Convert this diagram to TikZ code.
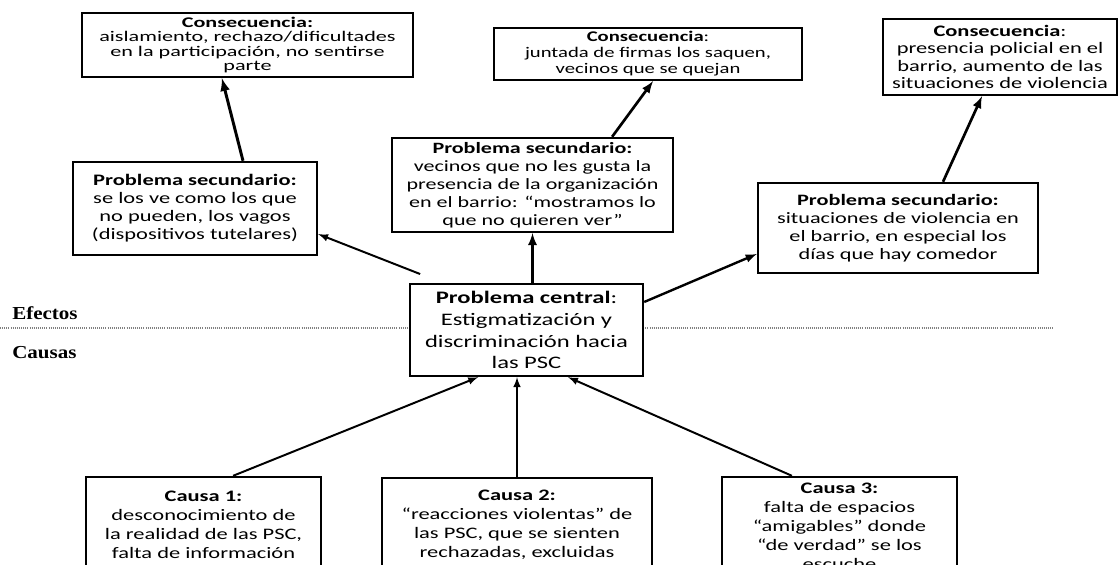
\documentclass[tikz,border=0pt]{standalone}
\usepackage{fontspec}
\setmainfont[FakeStretch=1.4]{Carlito}
\newfontfamily\wideboxfont[FakeStretch=1.5]{Carlito}
\newfontfamily\sidelabelfont[FakeStretch=1.15]{Liberation Serif}

\begin{document}
\begin{tikzpicture}[
	box/.style={draw, line width=1.7pt, fill=white, align=center, inner sep=2pt},
	arr/.style={->, >=latex, line width=1.9pt},
	thinarr/.style={->, >=latex, line width=1.4pt},
	divider/.style={gray, line width=0.9pt, dash pattern=on 0.7pt off 0.8pt}
	]
	% Picture is cut at the bottom, like the scan
	\path[use as bounding box] (0, 0) rectangle (27.95, 14.125);
	\clip (0, 0) rectangle (27.95, 14.125);
	
	% Dotted line between effects and causes
	\coordinate (divL) at (0, 5.925);
	\coordinate (divR) at (26.325, 5.925);
	\draw[divider] (divL) -- (divR);
	
	\node[anchor=west, inner sep=0pt, font=\sidelabelfont\bfseries\fontsize{13}{15}\selectfont] (efectos) at (0.3, 6.3) {Efectos};
	\node[anchor=west, inner sep=0pt, font=\sidelabelfont\bfseries\fontsize{13}{15}\selectfont] (causas) at (0.3, 5.3) {Causas};
	
	%% Effects %%
	% Consequences
	\node[box, minimum width=8.275cm, minimum height=1.6cm, font=\wideboxfont\fontsize{10.5}{10.4}\selectfont] (cons1) at (6.1875, 13.0) {\textbf{Consecuencia:}\\aislamiento, rechazo/dificultades\\en la participación, no sentirse\\parte};
	
	\node[box, minimum width=7.7cm, minimum height=1.3cm, font=\fontsize{10.5}{11.4}\selectfont] (cons2) at (16.2, 12.775) {\textbf{Consecuencia}:\\juntada de firmas los saquen,\\vecinos que se quejan};
	
	\node[box, minimum width=5.85cm, minimum height=1.9cm, font=\fontsize{11.4}{12.4}\selectfont] (cons3) at (25.0, 12.7) {\textbf{Consecuencia}:\\presencia policial en el\\barrio, aumento de las\\situaciones de violencia};
	
	% Secondary problems
	\node[box, minimum width=6.1cm, minimum height=2.325cm, font=\fontsize{11.4}{12.8}\selectfont] (ps1) at (4.875, 8.9125) {\textbf{Problema secundario:}\\se los ve como los que\\no pueden, los vagos\\(dispositivos tutelares)};
	
	\node[box, minimum width=7.025cm, minimum height=2.35cm, font=\fontsize{11.2}{12.8}\selectfont] (ps2) at (13.3125, 9.5) {\textbf{Problema secundario:}\\vecinos que no les gusta la\\presencia de la organización\\en el barrio: “mostramos lo\\que no quieren ver”};
	
	\node[box, minimum width=7.0cm, minimum height=2.25cm, font=\fontsize{11.3}{12.8}\selectfont] (ps3) at (22.45, 8.425) {\textbf{Problema secundario:}\\situaciones de violencia en\\el barrio, en especial los\\días que hay comedor};
	
	% Central problem
	\node[box, minimum width=5.825cm, minimum height=2.3cm, font=\fontsize{12.5}{15.6}\selectfont] (central) at (13.1625, 5.875) {\textbf{Problema central}:\\Estigmatización y\\discriminación hacia\\las PSC};
	
	%% Causes %%
	\node[box, minimum width=5.875cm, minimum height=2.375cm, font=\fontsize{11.4}{13.5}\selectfont] (causa1) at (5.0875, 1.0125) {\textbf{Causa 1:}\\desconocimiento de\\la realidad de las PSC,\\falta de información};
	
	\node[box, minimum width=6.75cm, minimum height=2.35cm, font=\fontsize{11.4}{13.5}\selectfont] (causa2) at (12.925, 1.0) {\textbf{Causa 2:}\\“reacciones violentas” de\\las PSC, que se sienten\\rechazadas, excluidas};
	
	\node[box, minimum width=5.875cm, minimum height=2.45cm, font=\fontsize{11.4}{13.5}\selectfont] (causa3) at (20.9875, 0.975) {\textbf{Causa 3:}\\falta de espacios\\“amigables” donde\\“de verdad” se los\\escuche};
	
	%% Arrows %%
	% secondary problems -> consequences
	\draw[arr, line width=2.1pt] ([xshift=1.2cm]ps1.north) -- ([xshift=-0.64cm]cons1.south);
	\draw[arr] ([xshift=1.99cm]ps2.north) -- ([xshift=0.125cm]cons2.south);
	\draw[arr] ([xshift=1.125cm]ps3.north) -- ([xshift=-0.45cm]cons3.south);
	
	% central problem -> secondary problems
	\draw[thinarr, shorten <=0.6cm] ([xshift=-2.1cm]central.north) -- ([yshift=-0.64cm]ps1.east);
	\draw[arr] (ps2.south |- central.north) -- (ps2.south);
	\draw[thinarr, line width=1.7pt] ([yshift=0.7cm]central.east) -- ([yshift=-0.65cm]ps3.west);
	
	% causes -> central problem
	\draw[thinarr] ([xshift=0.74cm]causa1.north) -- ([xshift=-1.21cm]central.south);
	\draw[thinarr] (causa2.north) -- (causa2.north |- central.south);
	\draw[thinarr] ([xshift=-1.19cm]causa3.north) -- ([xshift=1.04cm]central.south);
	
\end{tikzpicture}
\end{document}
